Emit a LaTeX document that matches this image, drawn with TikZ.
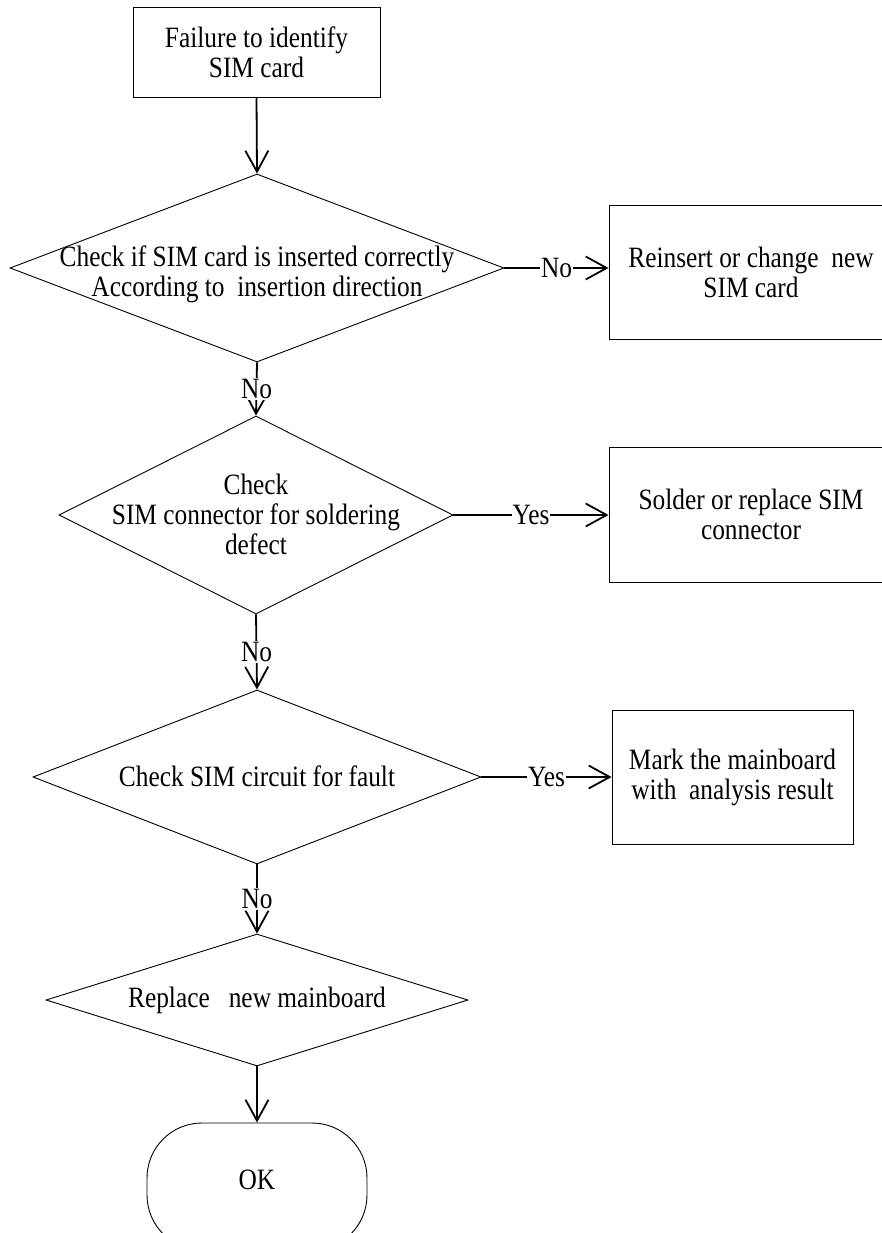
\documentclass[tikz,border=0pt]{standalone}
\usepackage{fontspec}
\setmainfont{Liberation Serif}[FakeStretch=0.86]
\usetikzlibrary{shapes.geometric,arrows.meta}
\begin{document}
\begin{tikzpicture}[x=1pt,y=-1pt,
  every node/.style={font=\fontsize{29.5}{30}\selectfont},
  box/.style={draw, line width=0.9pt, rectangle, align=center, inner sep=0pt},
  dia/.style={draw, line width=0.9pt, shape=diamond, inner sep=0pt},
  txt/.style={align=center, inner sep=0pt},
  conn/.style={line width=1.8pt, -{Straight Barb[length=21pt,width=23pt]}},
  lab/.style={fill=white, inner sep=1pt}]
\useasboundingbox (0,0) rectangle (882,1233);
\fill[white] (0,0) rectangle (882,1233);

% start box
\node[box, minimum width=247pt, minimum height=90pt] (s) at (256.5,52) {Failure to identify\\SIM card};

% decision 1
\node[dia, minimum width=494pt, minimum height=188pt] (d1) at (257,268) {};
\node[txt] (t1) at (257,274) {Check if SIM card is inserted correctly\\According to\ \ insertion direction};
\node[box, minimum width=284pt, minimum height=134pt] (b1) at (751,272) {Reinsert or change\ \ new\\SIM card};

% decision 2
\node[dia, minimum width=394pt, minimum height=198pt] (d2) at (256,515) {};
\node[txt] (t2) at (256,514) {Check\\SIM connector for soldering\\defect};
\node[box, minimum width=284pt, minimum height=135pt] (b2) at (751,514.5) {Solder or replace SIM\\connector};

% decision 3
\node[dia, minimum width=448pt, minimum height=174pt] (d3) at (257,777) {};
\node[txt] (t3) at (257,776) {Check SIM circuit for fault};
\node[box, minimum width=241pt, minimum height=134pt] (b3) at (732.5,777) {Mark the mainboard\\with\ \ analysis result};

% decision 4
\node[dia, minimum width=422pt, minimum height=132pt] (d4) at (257,1000) {};
\node[txt] (t4) at (257,1000) {Replace\ \ \ new mainboard};

% terminator
\node[draw, line width=0.9pt, rectangle, rounded corners=55pt, minimum width=220pt, minimum height=127pt, inner sep=0pt] (ok) at (257,1186.5) {};
\node[txt] (okt) at (257,1180) {OK};

% connectors
\draw[conn] (s.south) -- (d1.north);
\draw[conn] (d1.east) -- node[lab]{No} (d1.east -| b1.west);
\draw[conn] (d1.south) -- node[lab]{No} (d2.north);
\draw[conn] (d2.east) -- node[lab]{Yes} (d2.east -| b2.west);
\draw[conn] (d2.south) -- node[lab]{No} (d3.north);
\draw[conn] (d3.east) -- node[lab]{Yes} (d3.east -| b3.west);
\draw[conn] (d3.south) -- node[lab]{No} (d4.north);
\draw[conn] (d4.south) -- (ok.north);
\end{tikzpicture}
\end{document}
